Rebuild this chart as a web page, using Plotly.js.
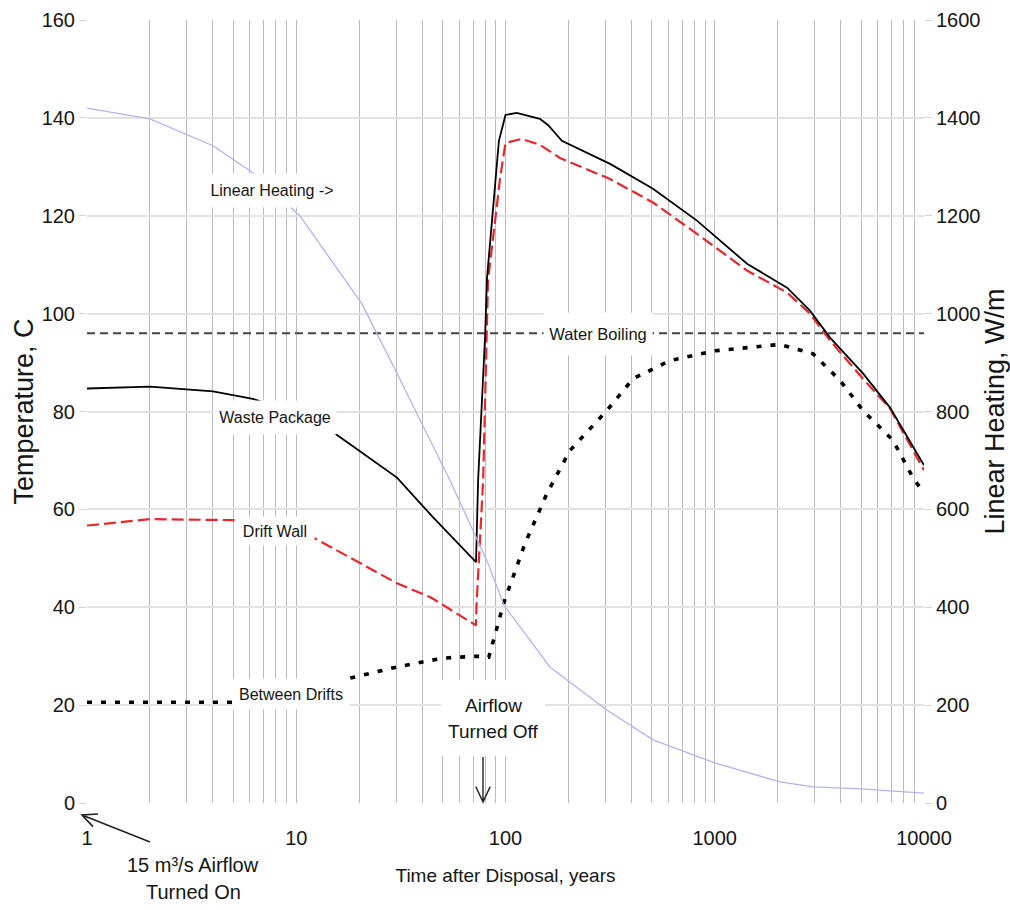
<!DOCTYPE html>
<html>
<head>
<meta charset="utf-8">
<script src="https://cdn.plot.ly/plotly-3.0.1.min.js"></script>
<style>
  html, body { margin: 0; padding: 0; background: #ffffff; }
  #chart { width: 1010px; height: 910px; }
</style>
</head>
<body>
<div id="chart"></div>
<script>
// ---- Data ----
// Waste Package temperature, C
const wpYears = [1, 2, 4, 6.2, 10, 15.3, 20, 30.3, 45, 72.3, 74, 80, 81.5, 93, 100, 113, 146, 160, 186, 316, 507, 822, 1426, 2215, 2850, 3555, 5110, 6880, 10000];
const wpTemp  = [84.7, 85.1, 84.1, 82.6, 79.5, 75.5, 72, 66.5, 58.4, 49.2, 66, 96, 107, 135.3, 140.6, 141, 139.8, 138.5, 135.3, 130.6, 125.5, 119, 110.2, 105.3, 100.6, 95.1, 87.8, 80.8, 69];

// Drift Wall temperature, C
const dwYears = [1, 2, 5, 8, 12, 30.3, 44, 72.3, 72.6, 76, 78.2, 82.5, 94.3, 100, 119.5, 146, 182, 316, 507, 822, 1426, 2215, 2850, 3555, 5110, 6880, 10000];
const dwTemp  = [56.7, 58, 57.8, 56.5, 54.3, 44.9, 42, 36.3, 40, 55, 66, 106.7, 127.8, 134.9, 135.7, 134.5, 131.8, 127.5, 122.7, 116.3, 108.8, 104.3, 100, 94.5, 86.7, 80.6, 68];

// Between Drifts temperature, C
const bdYears = [1, 2, 5, 10, 18, 30.3, 50, 73, 83.2, 98.3, 123.9, 158, 203, 305, 407, 611, 1000, 2050, 2950, 3980, 5110, 7110, 8850, 10000];
const bdTemp  = [20.6, 20.6, 20.6, 22.5, 25.5, 27.8, 29.6, 30, 29.8, 41, 53, 63.3, 72, 80.2, 86.7, 90.4, 92.4, 93.7, 91.8, 86.3, 80.2, 74.1, 66.5, 63.3];

// Linear Heating, W/m (right axis)
const lhYears = [1, 2, 4, 6.2, 10.4, 20.6, 30.3, 43.6, 54.3, 82.5, 98.3, 163, 305, 507, 1000, 2050, 2950, 5000, 10000];
const lhPower = [1420, 1398, 1343, 1288, 1200, 1020, 878, 740, 659, 490, 404, 278, 190, 129, 82, 43, 33, 29, 20];

// Water boiling temperature, C
const boilYears = [1, 10000];
const boilTemp  = [96, 96];

// Axis ticks
const xTickVals = [1, 10, 100, 1000, 10000];
const xTickText = ['1', '10', '100', '1000', '10000'];
const xMinorVals = [2,3,4,5,6,7,8,9, 20,30,40,50,60,70,80,90, 200,300,400,500,600,700,800,900, 2000,3000,4000,5000,6000,7000,8000,9000];

// ---- Styling ----
const FONT = "'Liberation Sans', Arial, Helvetica, sans-serif";
const INK = '#151515';
const VGRID = '#bcbcbc';
const HGRID = '#e2e2e2';

// plot-area geometry (pixels) used only to place labels / arrows
const PL = 87, PR = 924, PT = 20, PB = 803;
const px = p => (p - PL) / (PR - PL);
const py = p => (PB - p) / (PB - PT);

const traces = [
  { x: lhYears, y: lhPower, yaxis: 'y2', mode: 'lines', name: 'Linear Heating',
    line: { color: '#b3b3f2', width: 1.3 } },
  { x: boilYears, y: boilTemp, mode: 'lines', name: 'Water Boiling',
    line: { color: '#444444', width: 2, dash: '8px,5px' } },
  { x: bdYears, y: bdTemp, mode: 'lines', name: 'Between Drifts',
    line: { color: '#000000', width: 3.6, dash: '5px,9px' } },
  { x: dwYears, y: dwTemp, mode: 'lines', name: 'Drift Wall',
    line: { color: '#e8262b', width: 2.2, dash: '12px,5px' } },
  { x: wpYears, y: wpTemp, mode: 'lines', name: 'Waste Package',
    line: { color: '#000000', width: 1.8 } }
];

// white label box centred at pixel (cx, cy) with box size w x h
const lbl = (text, cx, cy, w, h, size) => ({
  text: text, xref: 'paper', yref: 'paper', x: px(cx), y: py(cy),
  showarrow: false, bgcolor: '#ffffff', borderpad: 0, width: w, height: h,
  font: { family: FONT, size: size || 16, color: INK },
  xanchor: 'center', yanchor: 'middle', align: 'center', valign: 'middle'
});
// plain single-line text centred at pixel (cx, cy)
const txt = (text, cx, cy, size) => ({
  text: text, xref: 'paper', yref: 'paper', x: px(cx), y: py(cy),
  showarrow: false, font: { family: FONT, size: size, color: INK },
  xanchor: 'center', yanchor: 'middle', align: 'center'
});

// open-chevron arrow drawn as a path shape, tail -> head (pixel points)
const arrow = (tx, ty, hx, hy, len, width) => {
  const dx = tx - hx, dy = ty - hy, d = Math.hypot(dx, dy);
  const ux = dx / d, uy = dy / d, a = 25 * Math.PI / 180;
  const c = Math.cos(a), s = Math.sin(a);
  const a1x = hx + len * (ux * c - uy * s), a1y = hy + len * (ux * s + uy * c);
  const a2x = hx + len * (ux * c + uy * s), a2y = hy + len * (-ux * s + uy * c);
  const P = (x, y) => px(x) + ',' + py(y);
  return {
    type: 'path', xref: 'paper', yref: 'paper', layer: 'above',
    path: 'M' + P(tx, ty) + 'L' + P(hx, hy) + 'M' + P(a1x, a1y) + 'L' + P(hx, hy) + 'L' + P(a2x, a2y),
    line: { color: '#222222', width: width }
  };
};
// white box (pixel rectangle) drawn above the traces
const whiteBox = (x0, y0, x1, y1) => ({
  type: 'rect', xref: 'paper', yref: 'paper', layer: 'above',
  x0: px(x0), x1: px(x1), y0: py(y1), y1: py(y0),
  fillcolor: '#ffffff', line: { width: 0 }
});

const layout = {
  width: 1010, height: 910,
  paper_bgcolor: '#ffffff', plot_bgcolor: '#ffffff',
  margin: { l: PL, r: 1010 - PR, t: PT, b: 910 - PB },
  showlegend: false,
  font: { family: FONT, size: 20, color: INK },
  xaxis: {
    type: 'log', range: [0, 4],
    tickvals: xTickVals, ticktext: xTickText,
    ticks: '', ticklabelstandoff: 21,
    showgrid: true, gridcolor: VGRID, gridwidth: 1,
    minor: { tickvals: xMinorVals, showgrid: true, gridcolor: VGRID, gridwidth: 1, ticks: '' },
    showline: false, zeroline: false,
    tickfont: { family: FONT, size: 20, color: INK },
    title: { text: 'Time after Disposal, years', standoff: 20,
             font: { family: FONT, size: 19, color: INK } },
    automargin: false
  },
  yaxis: {
    range: [0, 160], dtick: 20, tick0: 0,
    ticks: 'outside', ticklen: 7, tickcolor: '#d4d4d4', tickwidth: 1,
    showgrid: true, gridcolor: HGRID, gridwidth: 2,
    zeroline: false, showline: false,
    tickfont: { family: FONT, size: 20, color: INK },
    title: { text: 'Temperature, C', standoff: 0,
             font: { family: FONT, size: 27, color: INK } },
    automargin: false
  },
  yaxis2: {
    overlaying: 'y', side: 'right',
    range: [0, 1600], dtick: 200, tick0: 0,
    ticks: 'outside', ticklen: 7, tickcolor: '#d4d4d4', tickwidth: 1,
    showgrid: false, zeroline: false, showline: false,
    tickfont: { family: FONT, size: 20, color: INK },
    title: { text: 'Linear Heating, W/m', standoff: 6,
             font: { family: FONT, size: 27, color: INK } },
    automargin: false
  },
  annotations: [
    lbl('Linear Heating -&gt;', 272, 191, 134, 33),
    lbl('Waste Package', 275, 417, 122, 33),
    lbl('Drift Wall', 275, 531, 78, 28),
    lbl('Between Drifts', 291, 694, 116, 30),
    lbl('Water Boiling', 598, 334, 108, 42, 16.5),
    txt('Airflow', 493, 705, 19),
    txt('Turned Off', 493, 731, 19),
    txt('15 m³/s Airflow', 193, 865, 20),
    txt('Turned On', 193, 892, 20)
  ],
  shapes: [
    whiteBox(441, 680, 545, 756),
    arrow(483, 757, 483, 802, 17, 1.4),
    arrow(150, 842, 82, 815, 16, 1.6)
  ]
};

Plotly.newPlot('chart', traces, layout, { displayModeBar: false, staticPlot: true });
</script>
</body>
</html>
